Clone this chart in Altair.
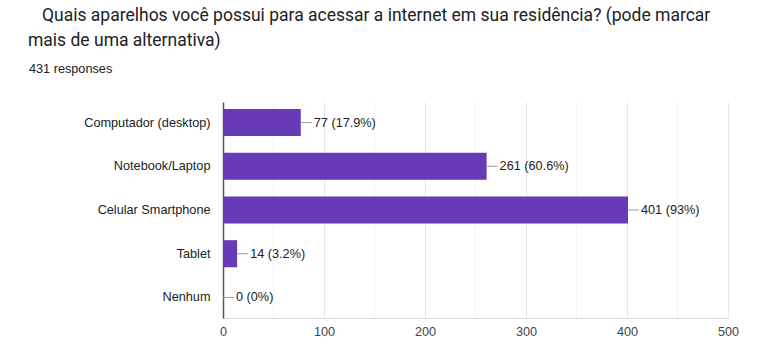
import altair as alt
import pandas as pd

categories = ["Computador (desktop)", "Notebook/Laptop", "Celular Smartphone", "Tablet", "Nenhum"]
counts = [77, 261, 401, 14, 0]
labels = ["77 (17.9%)", "261 (60.6%)", "401 (93%)", "14 (3.2%)", "0 (0%)"]
major_ticks = [0, 100, 200, 300, 400, 500]
minor_ticks = [50, 150, 250, 350, 450]
title_line1 = "Quais aparelhos você possui para acessar a internet em sua residência? (pode marcar"
title_line2 = "mais de uma alternativa)"
subtitle = "431 responses"

df = pd.DataFrame({"cat": categories, "n": counts, "lab": labels})
minor_df = pd.DataFrame({"v": minor_ticks})

TFONT = "Roboto"
FONT = "Liberation Sans"
FS = 12.7
TS = 17.5
xscale = alt.Scale(domain=[0, 500], nice=False)
yscale = alt.Scale(domain=categories, paddingInner=0.38, paddingOuter=0.16)

minor = alt.Chart(minor_df).mark_rule(color="#f3f3f3", strokeWidth=1).encode(
    x=alt.X("v:Q", scale=xscale)
)

bars = alt.Chart(df).mark_bar(color="#673ab7").encode(
    x=alt.X("n:Q", scale=xscale, title=None,
            axis=alt.Axis(values=major_ticks, grid=True, gridColor="#e6e6e6",
                          domainColor="#dcdcdc", ticks=False, labelPadding=7,
                          labelFlush=False,
                          labelFont=FONT, labelFontSize=FS, labelColor="#444444")),
    y=alt.Y("cat:N", scale=yscale, sort=categories, title=None,
            axis=alt.Axis(domainColor="#555555", domainWidth=1.5, ticks=False,
                          labelPadding=13, labelFont=FONT, labelFontSize=FS,
                          labelColor="#222222", labelLimit=300))
)

connectors = alt.Chart(df).mark_rule(color="#999999", x2Offset=11).encode(
    x=alt.X("n:Q", scale=xscale),
    x2=alt.X2("n:Q"),
    y=alt.Y("cat:N", scale=yscale, sort=categories)
)

texts = alt.Chart(df).mark_text(align="left", baseline="middle", dx=13,
                                font=FONT, fontSize=FS, color="#222222").encode(
    x=alt.X("n:Q", scale=xscale),
    y=alt.Y("cat:N", scale=yscale, sort=categories),
    text="lab:N"
)

t1 = alt.Chart(pd.DataFrame({"t": [title_line1]})).mark_text(
    align="left", baseline="alphabetic", font=TFONT, fontSize=TS, color="#202124"
).encode(x=alt.value(-181), y=alt.value(-81), text="t:N")

t2 = alt.Chart(pd.DataFrame({"t": [title_line2]})).mark_text(
    align="left", baseline="alphabetic", font=TFONT, fontSize=TS, color="#202124"
).encode(x=alt.value(-195), y=alt.value(-56), text="t:N")

t3 = alt.Chart(pd.DataFrame({"t": [subtitle]})).mark_text(
    align="left", baseline="alphabetic", font=FONT, fontSize=FS, color="#202124"
).encode(x=alt.value(-194), y=alt.value(-29), text="t:N")

chart = alt.layer(minor, bars, connectors, texts, t1, t2, t3).properties(
    width=505, height=216,
    autosize=alt.AutoSizeParams(type="none"),
    padding={"left": 223, "top": 102, "right": 33, "bottom": 33},
).configure_view(stroke=None)

chart.save("out.html", embed_options={"renderer": "svg", "actions": False})
